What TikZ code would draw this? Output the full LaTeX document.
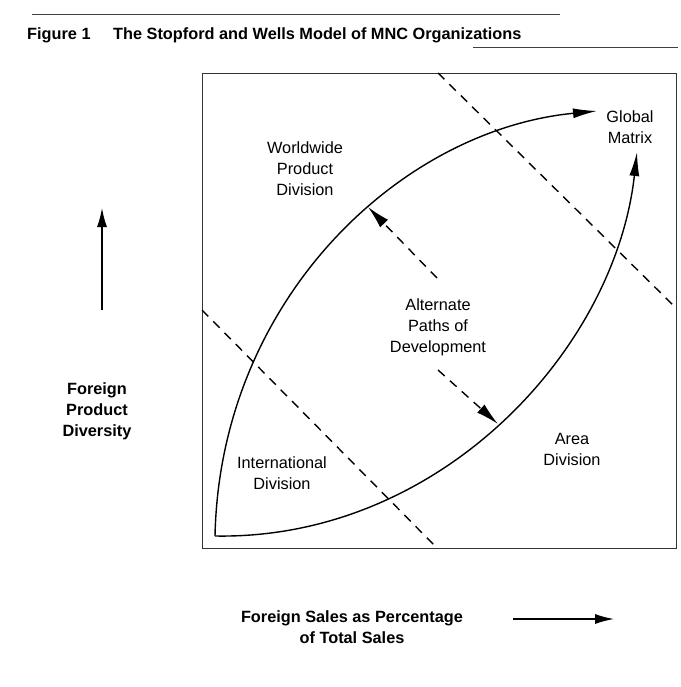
\documentclass[tikz,border=0pt]{standalone}
\usepackage{fontspec}
\setmainfont{Liberation Sans}
\usetikzlibrary{arrows.meta}
\begin{document}
\begin{tikzpicture}[x=1bp,y=-1bp,
  lbl/.style={font=\fontsize{16.3bp}{21bp}\selectfont, align=center, inner sep=0pt},
  boldlbl/.style={font=\fontsize{16.3bp}{21bp}\selectfont\bfseries, align=center, inner sep=0pt},
  pathline/.style={line width=1.4bp, -{Latex[length=24bp,width=10bp]}},
  dline/.style={line width=1.4bp, dash pattern=on 9bp off 7bp},
  darrow/.style={dline, -{Latex[length=23bp,width=11bp]}},
  axisarrow/.style={line width=1.3bp, -{Latex[length=19bp,width=10bp]}},
  rule/.style={line width=0.9bp, black!75}
]
\useasboundingbox (0,0) rectangle (681,687);
% header
\coordinate (r1a) at (32,14);
\coordinate (r1b) at (560,14);
\draw[rule] (r1a) -- (r1b);
\coordinate (r2a) at (473,47);
\coordinate (r2b) at (678,47);
\draw[rule] (r2a) -- (r2b);
\node[boldlbl, anchor=base west] (fig) at (27,40) {Figure 1};
\node[boldlbl, anchor=base west] (title) at (113,40) {The Stopford and Wells Model of MNC Organizations};
% frame
\node[draw=black!80, line width=0.9bp, minimum width=474bp, minimum height=475bp, inner sep=0pt, anchor=north west] (frame) at (202,73) {};
% dashed boundaries
\coordinate (d1a) at (438,73);
\coordinate (d1b) at (676,308);
\draw[dline] (d1a) -- (d1b);
\coordinate (d2a) at (202,310);
\coordinate (d2b) at (437,548);
\draw[dline] (d2a) -- (d2b);
% development paths
\coordinate (origin) at (215,536);
\coordinate (gm1) at (597,111);
\coordinate (gm2) at (637,152);
\draw[pathline] (origin) .. controls (220,300) and (400,130) .. (gm1);
\draw[pathline] (origin) .. controls (440,540) and (615,350) .. (gm2);
% alternate path arrows
\coordinate (a1s) at (437,278);
\coordinate (a1e) at (368,207);
\draw[darrow] (a1s) -- (a1e);
\coordinate (a2s) at (438,370);
\coordinate (a2e) at (498,424);
\draw[darrow] (a2s) -- (a2e);
% labels
\node[lbl] (wpd) at (305,169) {Worldwide\\Product\\Division};
\node[lbl] (gmx) at (630,127) {Global\\Matrix};
\node[lbl] (alt) at (438,327) {Alternate\\Paths of\\Development};
\node[lbl] (intl) at (282,473) {International\\Division};
\node[lbl] (area) at (572,449) {Area\\Division};
% axes
\node[boldlbl] (fpd) at (97,411) {Foreign\\Product\\Diversity};
\coordinate (va0) at (102,310);
\coordinate (va1) at (102,208);
\draw[axisarrow] (va0) -- (va1);
\node[boldlbl] (fs) at (352,627) {Foreign Sales as Percentage\\of Total Sales};
\coordinate (ha0) at (513,619);
\coordinate (ha1) at (614,619);
\draw[axisarrow] (ha0) -- (ha1);
\end{tikzpicture}
\end{document}
